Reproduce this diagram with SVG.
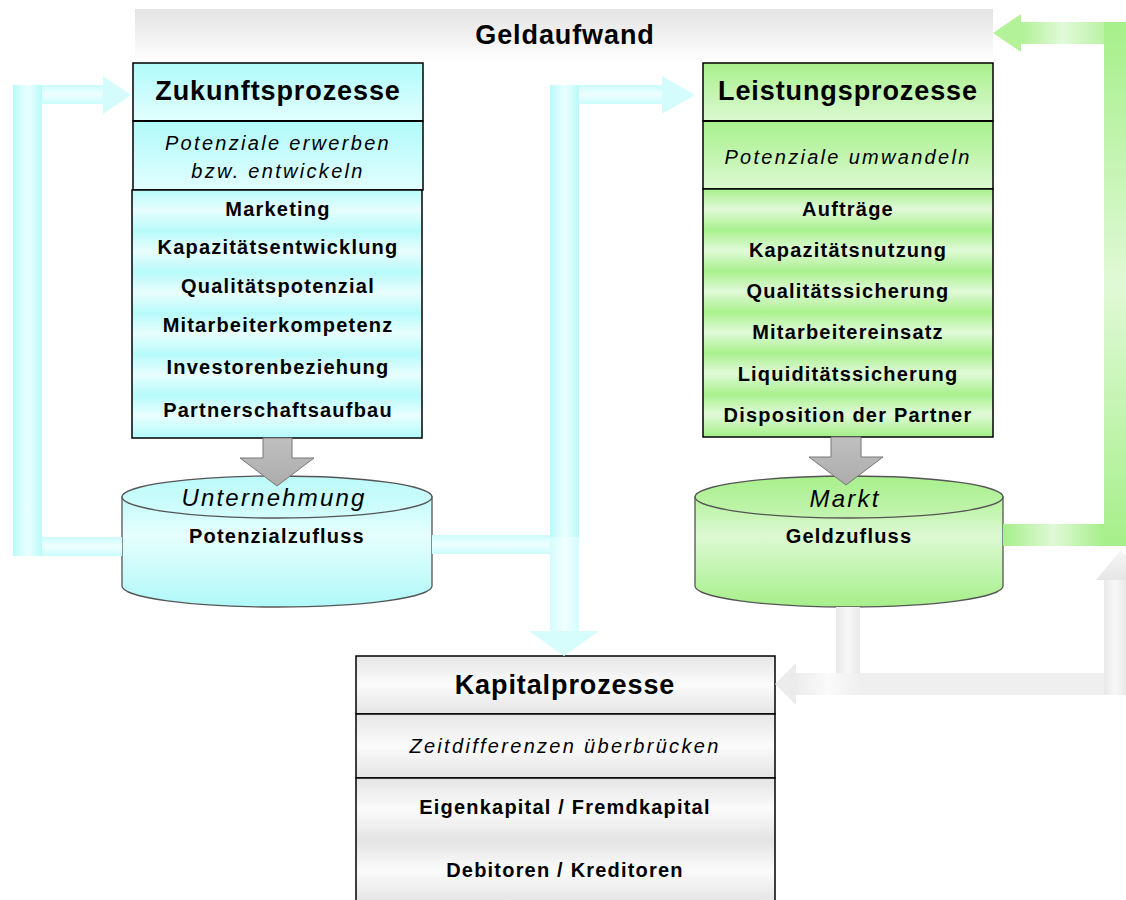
<svg xmlns="http://www.w3.org/2000/svg" width="1126" height="900" viewBox="0 0 1126 900">
<defs>
  <linearGradient id="barTop" x1="0" y1="0" x2="0" y2="1">
    <stop offset="0" stop-color="#e4e4e4"/><stop offset="1" stop-color="#ffffff"/>
  </linearGradient>
  <linearGradient id="cyanHead" x1="0" y1="0" x2="0" y2="1">
    <stop offset="0" stop-color="#b0fafa"/><stop offset="1" stop-color="#e2fefe"/>
  </linearGradient>
  <linearGradient id="cyanItems" gradientUnits="userSpaceOnUse" x1="0" y1="190" x2="0" y2="231" spreadMethod="repeat">
    <stop offset="0" stop-color="#b8fafa"/><stop offset="0.5" stop-color="#e8fefe"/><stop offset="1" stop-color="#b8fafa"/>
  </linearGradient>
  <linearGradient id="greenHead" x1="0" y1="0" x2="0" y2="1">
    <stop offset="0" stop-color="#a8f08c"/><stop offset="1" stop-color="#dcf9d2"/>
  </linearGradient>
  <linearGradient id="greenItems" gradientUnits="userSpaceOnUse" x1="0" y1="189" x2="0" y2="230" spreadMethod="repeat">
    <stop offset="0" stop-color="#aaf08e"/><stop offset="0.5" stop-color="#e0fad8"/><stop offset="1" stop-color="#aaf08e"/>
  </linearGradient>
  <linearGradient id="grayHead" x1="0" y1="0" x2="0" y2="1">
    <stop offset="0" stop-color="#e6e6e6"/><stop offset="0.5" stop-color="#fbfbfb"/><stop offset="1" stop-color="#e4e4e4"/>
  </linearGradient>
  <linearGradient id="grayItems" gradientUnits="userSpaceOnUse" x1="0" y1="778" x2="0" y2="840" spreadMethod="repeat">
    <stop offset="0" stop-color="#e4e4e4"/><stop offset="0.5" stop-color="#fbfbfb"/><stop offset="1" stop-color="#e4e4e4"/>
  </linearGradient>
  <linearGradient id="cylCyan" x1="0" y1="0" x2="0" y2="1">
    <stop offset="0" stop-color="#c4fbfb"/><stop offset="0.35" stop-color="#e6fefe"/><stop offset="1" stop-color="#b0f8f8"/>
  </linearGradient>
  <linearGradient id="cylCyanTop" x1="0" y1="0" x2="0" y2="1">
    <stop offset="0" stop-color="#bcfafa"/><stop offset="1" stop-color="#d4fdfd"/>
  </linearGradient>
  <linearGradient id="cylGreen" x1="0" y1="0" x2="0" y2="1">
    <stop offset="0" stop-color="#b6f29e"/><stop offset="0.35" stop-color="#ddf9d3"/><stop offset="1" stop-color="#a6ef8a"/>
  </linearGradient>
  <linearGradient id="cylGreenTop" x1="0" y1="0" x2="0" y2="1">
    <stop offset="0" stop-color="#a8f08c"/><stop offset="1" stop-color="#c4f4b0"/>
  </linearGradient>
  <linearGradient id="grayArrow" x1="0" y1="0" x2="0" y2="1">
    <stop offset="0" stop-color="#c0c0c0"/><stop offset="1" stop-color="#acacac"/>
  </linearGradient>
  <linearGradient id="cV" x1="0" y1="0" x2="1" y2="0">
    <stop offset="0" stop-color="#bafafa"/><stop offset="0.5" stop-color="#ecffff"/><stop offset="1" stop-color="#bafafa"/>
  </linearGradient>
  <linearGradient id="cVlight" x1="0" y1="0" x2="1" y2="0">
    <stop offset="0" stop-color="#d4fcfc"/><stop offset="0.5" stop-color="#f2ffff"/><stop offset="1" stop-color="#d4fcfc"/>
  </linearGradient>
  <linearGradient id="cH" x1="0" y1="0" x2="0" y2="1">
    <stop offset="0" stop-color="#ccfbfb"/><stop offset="0.5" stop-color="#eeffff"/><stop offset="1" stop-color="#ccfbfb"/>
  </linearGradient>
  <linearGradient id="gTop" x1="0" y1="0" x2="1" y2="0">
    <stop offset="0" stop-color="#b0f196"/><stop offset="0.4" stop-color="#e2f9da"/><stop offset="1" stop-color="#a6ef8a"/>
  </linearGradient>
  <linearGradient id="gV" x1="0" y1="0" x2="0" y2="1">
    <stop offset="0" stop-color="#a6ef8a"/><stop offset="0.5" stop-color="#e0f9d6"/><stop offset="1" stop-color="#a6ef8a"/>
  </linearGradient>
  <linearGradient id="gBot" x1="0" y1="0" x2="1" y2="0">
    <stop offset="0" stop-color="#a6ef8a"/><stop offset="0.5" stop-color="#e0f9d6"/><stop offset="1" stop-color="#a6ef8a"/>
  </linearGradient>
  <linearGradient id="grV" x1="0" y1="0" x2="1" y2="0">
    <stop offset="0" stop-color="#e8e8e8"/><stop offset="0.5" stop-color="#f8f8f8"/><stop offset="1" stop-color="#e8e8e8"/>
  </linearGradient>
  <linearGradient id="grH" x1="0" y1="0" x2="1" y2="0">
    <stop offset="0" stop-color="#ececec"/><stop offset="0.1" stop-color="#fafafa"/><stop offset="0.2" stop-color="#efefef"/><stop offset="1" stop-color="#efefef"/>
  </linearGradient>
  <linearGradient id="grUp" x1="0" y1="0" x2="0" y2="1">
    <stop offset="0" stop-color="#f6f6f6"/><stop offset="1" stop-color="#e6e6e6"/>
  </linearGradient>
</defs>
<style>
  text { font-family: "Liberation Sans", Arial, sans-serif; fill: #000; text-anchor: middle; }
  .hd { font-size: 27px; font-weight: bold; letter-spacing: 0.9px; }
  .it { font-size: 20px; font-weight: bold; letter-spacing: 1.2px; }
  .sub { font-size: 20px; font-style: italic; letter-spacing: 2.3px; }
  .cy { font-size: 24px; font-style: italic; letter-spacing: 2.2px; }
  .box { stroke: #000; stroke-width: 1.5; }
  .div { stroke: #000; stroke-width: 2.2; }
  .cyl { stroke: #555; stroke-width: 1.3; }
  .ga { fill: url(#grayArrow); stroke: #777; stroke-width: 1; }
</style>

<g id="geldaufwand">
  <rect x="135" y="9" width="858" height="54" fill="url(#barTop)"/>
  <text class="hd" x="565" y="44">Geldaufwand</text>
</g>

<g id="zukunftsprozesse">
  <rect class="box" x="133" y="63" width="290" height="58" fill="url(#cyanHead)"/>
  <rect class="box" x="133" y="121" width="290" height="69" fill="url(#cyanHead)"/>
  <line class="div" x1="133" y1="121" x2="423" y2="121"/>
  <rect class="box" x="132" y="190" width="290" height="248" fill="url(#cyanItems)"/>
  <text class="hd" x="278" y="100">Zukunftsprozesse</text>
  <text class="sub" x="278" y="150">Potenziale erwerben</text>
  <text class="sub" x="278" y="178">bzw. entwickeln</text>
  <text class="it" x="278" y="216">Marketing</text>
  <text class="it" x="278" y="254">Kapazitätsentwicklung</text>
  <text class="it" x="278" y="293">Qualitätspotenzial</text>
  <text class="it" x="278" y="332">Mitarbeiterkompetenz</text>
  <text class="it" x="278" y="374">Investorenbeziehung</text>
  <text class="it" x="278" y="417">Partnerschaftsaufbau</text>
</g>

<g id="leistungsprozesse">
  <rect class="box" x="703" y="63" width="290" height="58" fill="url(#greenHead)"/>
  <rect class="box" x="703" y="121" width="290" height="68" fill="url(#greenHead)"/>
  <line class="div" x1="703" y1="121" x2="993" y2="121"/>
  <rect class="box" x="703" y="189" width="290" height="248" fill="url(#greenItems)"/>
  <text class="hd" x="848" y="100">Leistungsprozesse</text>
  <text class="sub" x="848" y="164">Potenziale umwandeln</text>
  <text class="it" x="848" y="216">Aufträge</text>
  <text class="it" x="848" y="257">Kapazitätsnutzung</text>
  <text class="it" x="848" y="298">Qualitätssicherung</text>
  <text class="it" x="848" y="339">Mitarbeitereinsatz</text>
  <text class="it" x="848" y="381">Liquiditätssicherung</text>
  <text class="it" x="848" y="422">Disposition der Partner</text>
</g>

<g id="unternehmung">
  <path class="cyl" d="M122,497 V586 A155,21 0 0 0 432,586 V497 Z" fill="url(#cylCyan)"/>
  <ellipse class="cyl" cx="277" cy="497" rx="155" ry="21" fill="url(#cylCyanTop)"/>
  <text class="cy" x="274" y="506">Unternehmung</text>
  <text class="it" x="277" y="543">Potenzialzufluss</text>
</g>

<g id="markt">
  <path class="cyl" d="M695,497 V586 A154,21 0 0 0 1003,586 V497 Z" fill="url(#cylGreen)"/>
  <ellipse class="cyl" cx="849" cy="497" rx="154" ry="21" fill="url(#cylGreenTop)"/>
  <text class="cy" x="845" y="507">Markt</text>
  <text class="it" x="849" y="543">Geldzufluss</text>
</g>

<g id="kapitalprozesse">
  <rect class="box" x="356" y="656" width="419" height="58" fill="url(#grayHead)"/>
  <rect class="box" x="356" y="714" width="419" height="64" fill="url(#grayHead)"/>
  <rect class="box" x="356" y="778" width="419" height="124" fill="url(#grayItems)"/>
  <text class="hd" x="565" y="694">Kapitalprozesse</text>
  <text class="sub" x="565" y="753">Zeitdifferenzen überbrücken</text>
  <text class="it" x="565" y="814">Eigenkapital / Fremdkapital</text>
  <text class="it" x="565" y="877">Debitoren / Kreditoren</text>
</g>

<g id="connectors">
  <rect x="13" y="85" width="29" height="471" fill="url(#cV)"/>
  <rect x="42" y="85" width="61" height="19" fill="url(#cH)"/>
  <polygon points="103,76 131,95 103,114" fill="#d4fcfc"/>
  <rect x="42" y="537" width="80" height="19" fill="url(#cH)"/>
  <rect x="550" y="85" width="29" height="452" fill="url(#cV)"/>
  <rect x="579" y="85" width="83" height="19" fill="url(#cH)"/>
  <polygon points="662,76 695,95 662,114" fill="#d4fcfc"/>
  <rect x="432" y="535" width="118" height="19" fill="url(#cH)"/>
  <rect x="550" y="537" width="29" height="94" fill="url(#cVlight)"/>
  <polygon points="529,631 599,631 564,656" fill="#d6fcfc"/>
  <rect x="1021" y="22" width="105" height="22" fill="url(#gTop)"/>
  <polygon points="1021,14 993,33 1021,52" fill="#b4f29a"/>
  <rect x="1104" y="22" width="22" height="524" fill="url(#gV)"/>
  <rect x="1003" y="524" width="101" height="22" fill="url(#gBot)"/>
  <rect x="836" y="607" width="24" height="88" fill="url(#grV)"/>
  <rect x="795" y="673" width="331" height="22" fill="url(#grH)"/>
  <polygon points="796,663 775,684 796,705" fill="#ececec"/>
  <rect x="1104" y="578" width="22" height="117" fill="url(#grV)"/>
  <polygon points="1096,580 1121,550 1146,580" fill="url(#grUp)"/>
  <polygon class="ga" points="263,438 292,438 292,458 314,458 277,486 240,458 263,458"/>
  <polygon class="ga" points="831,437 861,437 861,457 883,457 846,485 809,457 831,457"/>
</g>
</svg>
